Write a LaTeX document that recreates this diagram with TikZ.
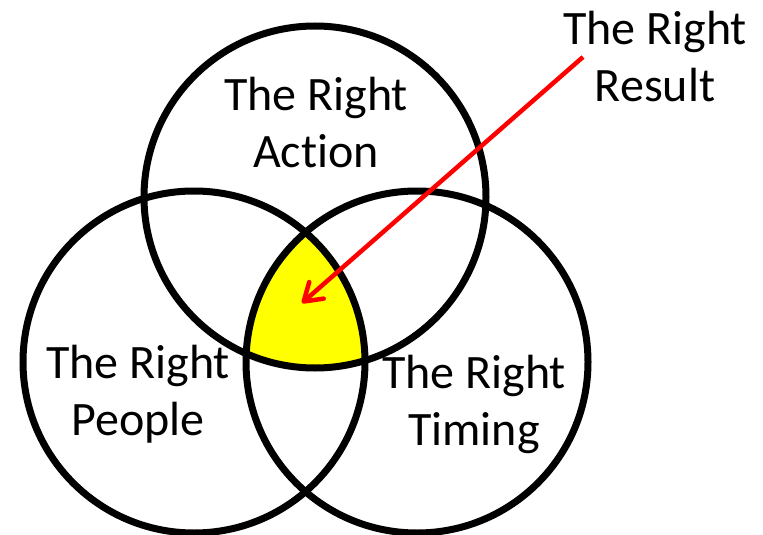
\documentclass[tikz,border=0pt]{standalone}
\usepackage{fontspec}
\setmainfont{Carlito}[Ligatures=NoCommon]
\usetikzlibrary{arrows.meta}
\definecolor{venny}{RGB}{255,255,0}
\definecolor{arrowred}{RGB}{255,0,0}
\tikzset{
  ring/.style={draw=black, line width=7pt},
  lbl/.style={align=center, font=\fontsize{48}{57}\selectfont, inner sep=0pt},
  pointer/.style={draw=arrowred, line width=4.5pt, -{Straight Barb[length=17pt,width=22pt,round]}}
}
\begin{document}
\begin{tikzpicture}[x=1pt,y=-1pt]
\useasboundingbox (0,0) rectangle (763,535);
\clip (0,0) rectangle (763,535);
\def\R{171}
\coordinate (cA) at (315,197);
\coordinate (cP) at (194,362);
\coordinate (cT) at (417,362);
\begin{scope}
  \clip (cA) circle[radius=\R];
  \clip (cP) circle[radius=\R];
  \fill[venny] (cT) circle[radius=\R];
\end{scope}
\draw[ring] (cA) circle[radius=\R];
\draw[ring] (cP) circle[radius=\R];
\draw[ring] (cT) circle[radius=\R];
\node[lbl] (action) at (316,123) {The Right\\Action};
\node[lbl] (people) at (138,394) {The Right\\People};
\node[lbl] (timing) at (474,404) {The Right\\Timing};
\node[lbl] (result) at (655,57) {The Right\\Result};
\coordinate (arrowstart) at (583,57);
\coordinate (arrowtip) at (302,303);
\draw[pointer] (arrowstart) -- (arrowtip);
\end{tikzpicture}
\end{document}
